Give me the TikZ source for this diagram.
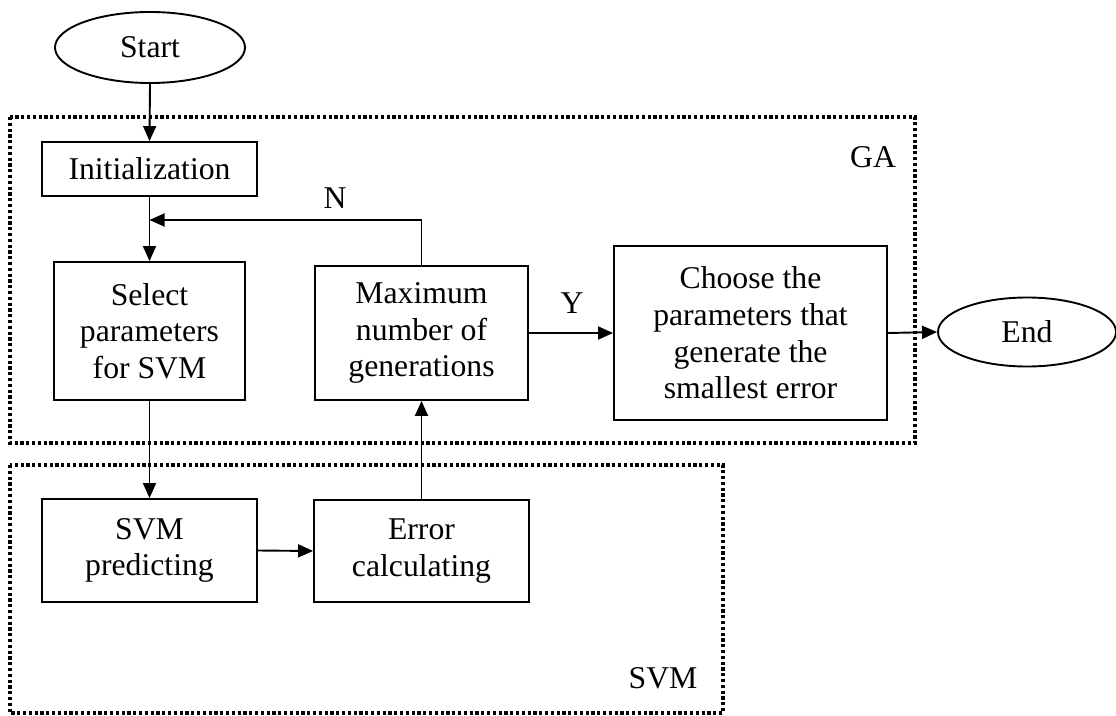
\documentclass[tikz,border=0pt]{standalone}
\usepackage{fontspec}
\setmainfont{Liberation Serif}
\usetikzlibrary{shapes.geometric,arrows.meta}
\begin{document}
\begin{tikzpicture}[x=1pt,y=-1pt,
  every node/.style={font=\fontsize{31.7}{36.7}\selectfont},
  stepbox/.style={draw,line width=1.9pt,inner sep=0pt,align=center},
  terminal/.style={draw,ellipse,line width=1.9pt,inner sep=0pt},
  region/.style={draw,line width=3.2pt,dash pattern=on 3.2pt off 2.6pt},
  conn/.style={line width=1.9pt,-{Triangle[length=15pt,width=13pt]}},
  lbl/.style={inner sep=0pt}]
\useasboundingbox (0,0) rectangle (1116,715);
% regions
\draw[region] (10,117) rectangle (915,443);
\draw[region] (10,465) rectangle (723,713);
\node[lbl] (galbl) at (873,157) {GA};
\node[lbl] (svmlbl) at (663,678) {SVM};
% nodes
\node[terminal,minimum width=190pt,minimum height=71pt] (start) at (150,47.5) {Start};
\node[stepbox,minimum width=215pt,minimum height=54pt] (init) at (149.5,169) {Initialization};
\node[stepbox,minimum width=191pt,minimum height=138pt] (sel) at (149.5,331) {Select\\parameters\\for SVM};
\node[stepbox,minimum width=213pt,minimum height=134pt] (max) at (421.5,333) {Maximum\\number of\\generations};
\node[stepbox,minimum width=273pt,minimum height=174pt] (choose) at (750.5,333) {Choose the\\parameters that\\generate the\\smallest error};
\node[terminal,minimum width=178pt,minimum height=69pt] (end) at (1027,332) {End};
\node[stepbox,minimum width=215pt,minimum height=103pt] (pred) at (149.5,550.5) {SVM\\predicting};
\node[stepbox,minimum width=215pt,minimum height=102pt] (err) at (421.5,551) {Error\\calculating};
\coordinate (join) at (149.5,220);
% labels
\node[lbl] (nlbl) at (335,198) {N};
\node[lbl] (ylbl) at (572,303) {Y};
% connectors
\draw[conn] (start.south) -- (init.north);
\draw[conn] (init.south) -- (sel.north);
\draw[conn] (max.north) |- (join);
\draw[conn] (sel.south) -- (pred.north);
\draw[conn] (pred.east) -- (err.west);
\draw[conn] (err.north) -- (max.south);
\draw[conn] (max.east) -- (choose.west);
\draw[conn] (choose.east) -- (end.west);
\end{tikzpicture}
\end{document}
